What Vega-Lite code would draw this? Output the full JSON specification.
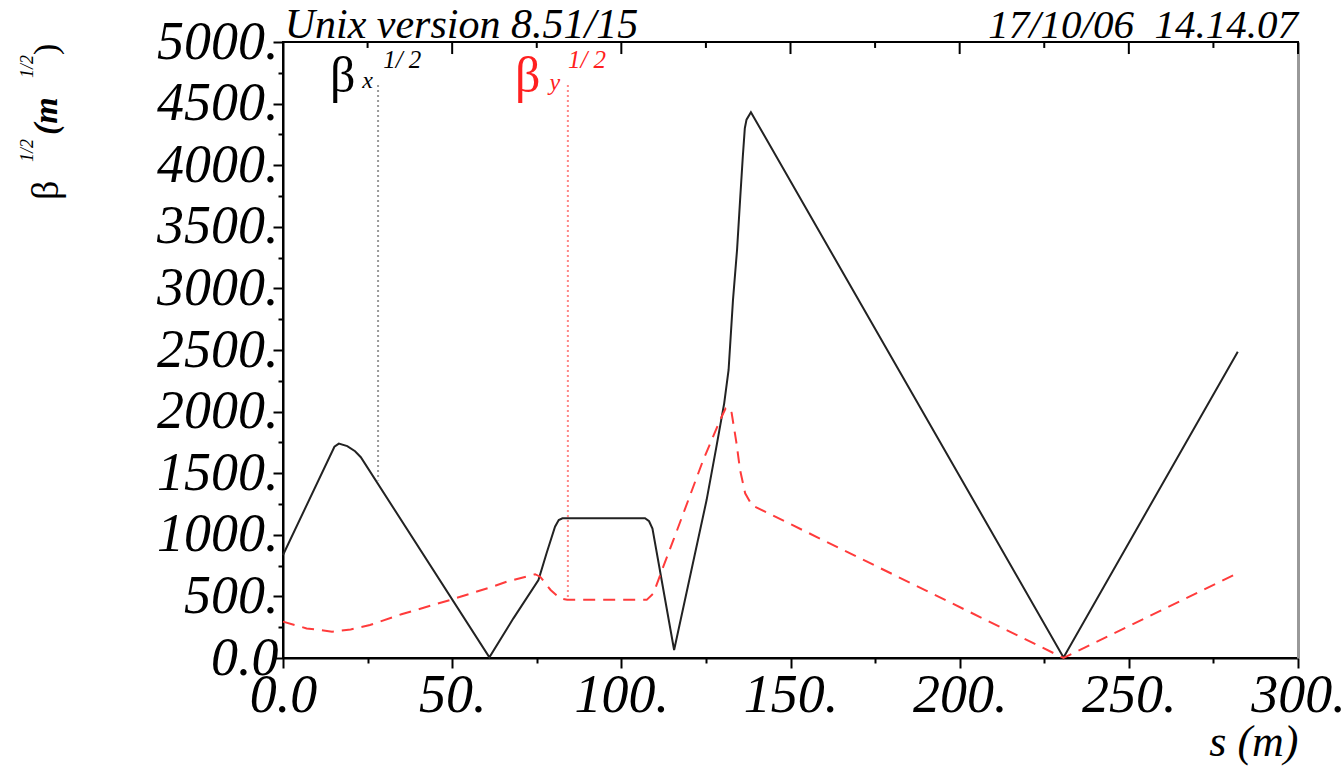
{
  "$schema": "https://vega.github.io/schema/vega-lite/v6.json",
  "width": 1015,
  "height": 616,
  "autosize": {"type": "none"},
  "padding": {"left": 283, "top": 42, "right": 44, "bottom": 110},
  "background": "white",
  "config": {
    "view": {"stroke": "#000000", "strokeWidth": 2},
    "font": "Liberation Serif",
    "axis": {"grid": false, "labelFont": "Liberation Serif", "titleFont": "Liberation Serif"}
  },
  "data": {"values": [{}]},
  "datasets": {
    "bx": [
      {"s": 0, "v": 836}, {"s": 15.2, "v": 1715}, {"s": 16.5, "v": 1740}, {"s": 19, "v": 1720},
      {"s": 21.3, "v": 1678}, {"s": 23, "v": 1630}, {"s": 61.0, "v": 5}, {"s": 68.1, "v": 322},
      {"s": 75.5, "v": 633}, {"s": 77.9, "v": 850}, {"s": 80.4, "v": 1066}, {"s": 81.5, "v": 1120},
      {"s": 82.6, "v": 1134}, {"s": 107.0, "v": 1134}, {"s": 108.2, "v": 1110}, {"s": 109.2, "v": 1050},
      {"s": 115.6, "v": 65}, {"s": 125.2, "v": 1282}, {"s": 128.0, "v": 1700}, {"s": 130.4, "v": 2067}, {"s": 131.7, "v": 2338},
      {"s": 133.0, "v": 2906}, {"s": 134.2, "v": 3312}, {"s": 135.1, "v": 3718}, {"s": 135.9, "v": 4069},
      {"s": 136.5, "v": 4300}, {"s": 137.0, "v": 4370}, {"s": 138.3, "v": 4430}, {"s": 230.7, "v": 5},
      {"s": 282.2, "v": 2486}
    ],
    "by": [
      {"s": 0, "v": 295}, {"s": 7, "v": 240}, {"s": 14.5, "v": 214}, {"s": 20, "v": 232},
      {"s": 25.7, "v": 268}, {"s": 35, "v": 355}, {"s": 49.4, "v": 471}, {"s": 62, "v": 580},
      {"s": 66.1, "v": 619}, {"s": 74.5, "v": 680}, {"s": 76.0, "v": 660}, {"s": 79.1, "v": 552},
      {"s": 81.9, "v": 484}, {"s": 84, "v": 472}, {"s": 107.5, "v": 472}, {"s": 109.5, "v": 525},
      {"s": 112.4, "v": 741}, {"s": 115.4, "v": 958}, {"s": 119.8, "v": 1282}, {"s": 124.2, "v": 1607},
      {"s": 129.2, "v": 1932}, {"s": 130.8, "v": 2025}, {"s": 131.7, "v": 2035}, {"s": 132.6, "v": 1990},
      {"s": 134, "v": 1750}, {"s": 135.1, "v": 1526}, {"s": 136.6, "v": 1337}, {"s": 138.6, "v": 1240},
      {"s": 230.7, "v": 0}, {"s": 282.2, "v": 690}
    ],
    "markers": [
      {"s": 28.1, "top": 4651, "bottom": 1440, "series": "x"},
      {"s": 84.2, "top": 4651, "bottom": 490, "series": "y"}
    ],
    "labels": [
      {"s": 13.9, "series": "x"},
      {"s": 68.6, "series": "y"}
    ],
    "topMajor": [{"s": 0}, {"s": 50}, {"s": 100}, {"s": 150}, {"s": 200}, {"s": 250}, {"s": 300}],
    "topMinor": [{"s": 25}, {"s": 75}, {"s": 125}, {"s": 175}, {"s": 225}, {"s": 275}]
  },
  "resolve": {"axis": {"x": "independent", "y": "independent"}, "scale": {"color": "independent"}},
  "layer": [
    {
      "data": {"name": "bx"},
      "mark": {"type": "line", "color": "#222222", "strokeWidth": 2, "clip": false},
      "encoding": {
        "x": {
          "field": "s", "type": "quantitative",
          "scale": {"domain": [0, 300], "nice": false, "zero": false},
          "axis": {
            "orient": "bottom",
            "values": [0, 25, 50, 75, 100, 125, 150, 175, 200, 225, 250, 275, 300],
            "labelExpr": "datum.value % 50 === 0 ? (datum.value === 0 ? '0.0' : datum.value + '.') : ''",
            "tickSize": {"condition": {"test": "datum.value % 50 === 0", "value": 10}, "value": 5},
            "tickColor": "#000", "tickWidth": 2,
            "domainColor": "#000", "domainWidth": 2,
            "labelFontSize": 54, "labelFontStyle": "italic", "labelColor": "#000",
            "labelPadding": 0, "labelFlush": false, "labelOverlap": false,
            "title": "s (m)", "titleAnchor": "end", "titleFontSize": 44, "titleFontStyle": "italic",
            "titleFontWeight": "normal", "titleColor": "#000", "titlePadding": -2
          }
        },
        "y": {
          "field": "v", "type": "quantitative",
          "scale": {"domain": [0, 5000], "nice": false},
          "axis": {
            "orient": "left",
            "values": [0, 250, 500, 750, 1000, 1250, 1500, 1750, 2000, 2250, 2500, 2750, 3000, 3250, 3500, 3750, 4000, 4250, 4500, 4750, 5000],
            "labelExpr": "datum.value % 500 === 0 ? (datum.value === 0 ? '0.0' : datum.value + '.') : ''",
            "tickSize": {"condition": {"test": "datum.value % 500 === 0", "value": 10}, "value": 5},
            "tickColor": "#000", "tickWidth": 2,
            "domainColor": "#000", "domainWidth": 2,
            "labelFontSize": 54, "labelFontStyle": "italic", "labelColor": "#000",
            "labelPadding": -5, "labelFlush": false, "labelOverlap": false,
            "title": null
          }
        }
      }
    },
    {
      "data": {"name": "by"},
      "mark": {"type": "line", "color": "#ff3b3b", "strokeWidth": 2, "strokeDash": [12, 8], "clip": false},
      "encoding": {
        "x": {"field": "s", "type": "quantitative", "axis": null},
        "y": {
          "field": "v", "type": "quantitative",
          "axis": {
            "orient": "right", "labels": false, "ticks": false,
            "domainColor": "#999999", "domainWidth": 3, "title": null
          }
        }
      }
    },
    {
      "data": {"name": "topMajor"},
      "mark": {"type": "tick", "orient": "vertical", "color": "#000000", "thickness": 2, "size": 12, "opacity": 1},
      "encoding": {
        "x": {"field": "s", "type": "quantitative", "axis": null},
        "y": {"datum": 4951, "type": "quantitative", "axis": null}
      }
    },
    {
      "data": {"name": "topMinor"},
      "mark": {"type": "tick", "orient": "vertical", "color": "#000000", "thickness": 2, "size": 6, "opacity": 1},
      "encoding": {
        "x": {"field": "s", "type": "quantitative", "axis": null},
        "y": {"datum": 4976, "type": "quantitative", "axis": null}
      }
    },
    {
      "data": {"name": "markers"},
      "mark": {"type": "rule", "strokeWidth": 2, "strokeDash": [2, 3]},
      "encoding": {
        "x": {"field": "s", "type": "quantitative", "axis": null},
        "y": {"field": "top", "type": "quantitative", "axis": null},
        "y2": {"field": "bottom"},
        "color": {"field": "series", "type": "nominal", "scale": {"domain": ["x", "y"], "range": ["#999999", "#ff8888"]}, "legend": null}
      }
    },
    {
      "data": {"name": "labels"},
      "mark": {"type": "text", "text": "β", "align": "left", "baseline": "alphabetic", "fontSize": 50},
      "encoding": {
        "x": {"field": "s", "type": "quantitative", "axis": null},
        "y": {"datum": 4594, "type": "quantitative", "axis": null},
        "color": {"field": "series", "type": "nominal", "scale": {"domain": ["x", "y"], "range": ["#000000", "#ff2020"]}, "legend": null}
      }
    },
    {
      "mark": {"type": "text", "text": "Unix version 8.51/15", "align": "left", "baseline": "alphabetic", "fontSize": 42, "fontStyle": "italic", "color": "#000", "clip": false},
      "encoding": {"x": {"datum": 0.5, "type": "quantitative", "axis": null}, "y": {"datum": 5032, "type": "quantitative", "axis": null}}
    },
    {
      "mark": {"type": "text", "text": "17/10/06\u00a0\u00a014.14.07", "align": "right", "baseline": "alphabetic", "fontSize": 41, "fontStyle": "italic", "color": "#000", "clip": false},
      "encoding": {"x": {"datum": 300, "type": "quantitative", "axis": null}, "y": {"datum": 5032, "type": "quantitative", "axis": null}}
    },
    {
      "mark": {"type": "text", "text": "x", "align": "left", "baseline": "alphabetic", "fontSize": 24, "fontStyle": "italic", "color": "#000"},
      "encoding": {"x": {"datum": 23.4, "type": "quantitative", "axis": null}, "y": {"datum": 4627, "type": "quantitative", "axis": null}}
    },
    {
      "mark": {"type": "text", "text": "1/ 2", "align": "left", "baseline": "alphabetic", "fontSize": 25, "fontStyle": "italic", "color": "#000"},
      "encoding": {"x": {"datum": 29.6, "type": "quantitative", "axis": null}, "y": {"datum": 4790, "type": "quantitative", "axis": null}}
    },
    {
      "mark": {"type": "text", "text": "y", "align": "left", "baseline": "alphabetic", "fontSize": 24, "fontStyle": "italic", "color": "#ff2020"},
      "encoding": {"x": {"datum": 78.8, "type": "quantitative", "axis": null}, "y": {"datum": 4610, "type": "quantitative", "axis": null}}
    },
    {
      "mark": {"type": "text", "text": "1/ 2", "align": "left", "baseline": "alphabetic", "fontSize": 25, "fontStyle": "italic", "color": "#ff2020"},
      "encoding": {"x": {"datum": 84.2, "type": "quantitative", "axis": null}, "y": {"datum": 4790, "type": "quantitative", "axis": null}}
    },
    {
      "mark": {"type": "text", "text": "β", "align": "left", "baseline": "middle", "angle": 270, "fontSize": 38, "color": "#000", "clip": false},
      "encoding": {"x": {"datum": -69.8, "type": "quantitative", "axis": null}, "y": {"datum": 3718, "type": "quantitative", "axis": null}}
    },
    {
      "mark": {"type": "text", "text": "1/2", "align": "left", "baseline": "middle", "angle": 270, "fontSize": 18, "fontStyle": "italic", "color": "#000", "clip": false},
      "encoding": {"x": {"datum": -75.4, "type": "quantitative", "axis": null}, "y": {"datum": 4026, "type": "quantitative", "axis": null}}
    },
    {
      "mark": {"type": "text", "text": "(m", "align": "left", "baseline": "middle", "angle": 270, "fontSize": 34, "fontStyle": "italic", "fontWeight": "bold", "color": "#000", "clip": false},
      "encoding": {"x": {"datum": -69.8, "type": "quantitative", "axis": null}, "y": {"datum": 4245, "type": "quantitative", "axis": null}}
    },
    {
      "mark": {"type": "text", "text": "1/2", "align": "left", "baseline": "middle", "angle": 270, "fontSize": 18, "fontStyle": "italic", "color": "#000", "clip": false},
      "encoding": {"x": {"datum": -75.4, "type": "quantitative", "axis": null}, "y": {"datum": 4708, "type": "quantitative", "axis": null}}
    },
    {
      "mark": {"type": "text", "text": ")", "align": "left", "baseline": "middle", "angle": 270, "fontSize": 34, "color": "#000", "clip": false},
      "encoding": {"x": {"datum": -69.8, "type": "quantitative", "axis": null}, "y": {"datum": 4894, "type": "quantitative", "axis": null}}
    }
  ]
}
